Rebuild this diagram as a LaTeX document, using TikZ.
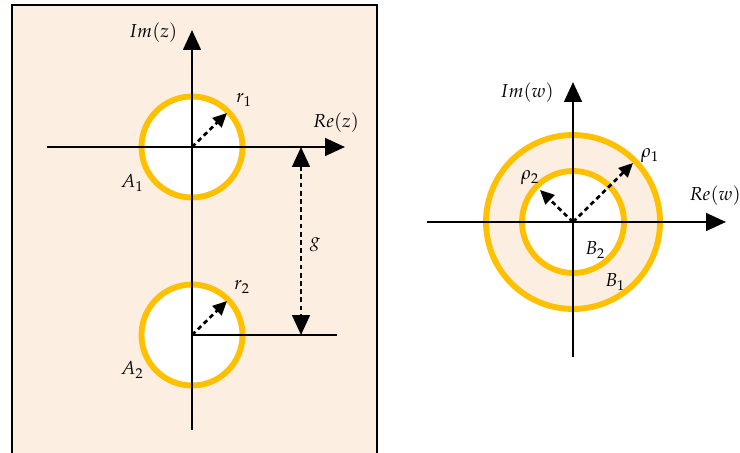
\documentclass[tikz,border=0pt]{standalone}
\usepackage{amsmath}
\usepackage{mathpazo}
\usetikzlibrary{arrows.meta}
\definecolor{ringgold}{HTML}{FFC000}
\definecolor{peach}{HTML}{FCEEE1}

\begin{document}
\begin{tikzpicture}[x=0.03cm,y=-0.03cm,>={Triangle[length=17pt,width=15pt]},
    axis/.style={line width=2.3pt},
    ring/.style={draw=ringgold,line width=5pt},
    radarrow/.style={-{Triangle[length=12pt,width=11pt]},line width=2.3pt,dash pattern=on 4pt off 3pt},
    lbl/.style={font=\fontsize{16}{19}\selectfont,inner sep=0pt}]
            \useasboundingbox (0,0) rectangle (740,452);
            \clip (0,0) rectangle (740,452);
            % z-plane panel
            \filldraw [fill=peach,line width=2.3pt] (12,5) rectangle (377,480);
            \coordinate (zA) at (192,147);
            \coordinate (zB) at (192,335);
            \filldraw [ring,fill=white] (zA) circle [radius=50.5];
            \filldraw [ring,fill=white] (zB) circle [radius=50.5];
            \draw [axis,->] (192,430) -- (192,30);
            \draw [axis,->] (47,147) -- (345,147);
            \draw [axis] (zB) -- (337,335);
            \draw [radarrow] (zA) -- ++(35,-34);
            \draw [radarrow] (zB) -- ++(35,-34);
            \draw [radarrow,<->] (301,147) -- (301,335);
            \node [lbl] at (153,33) {$Im(z)$};
            \node [lbl] at (336,123) {$Re(z)$};
            \node [lbl] at (244,100) {$r_1$};
            \node [lbl] at (132,183) {$A_1$};
            \node [lbl] at (315,245) {$g$};
            \node [lbl] at (242,287) {$r_2$};
            \node [lbl] at (132,370) {$A_2$};
            % w-plane
            \coordinate (w0) at (573,222);
            \fill [peach] (w0) circle [radius=87];
            \fill [white] (w0) circle [radius=51];
            \draw [ring] (w0) circle [radius=87];
            \draw [ring] (w0) circle [radius=51];
            \draw [axis,->] (573,357) -- (573,82);
            \draw [axis,->] (427,222) -- (726,222);
            \draw [radarrow] (w0) -- ++(60,-59);
            \draw [radarrow] (w0) -- ++(-33,-32);
            \node [lbl] at (527,93) {$Im(w)$};
            \node [lbl] at (715,196) {$Re(w)$};
            \node [lbl] at (650,156) {$\rho_1$};
            \node [lbl] at (530,178) {$\rho_2$};
            \node [lbl] at (595,250) {$B_2$};
            \node [lbl] at (615,282) {$B_1$};
        \end{tikzpicture}
\end{document}
